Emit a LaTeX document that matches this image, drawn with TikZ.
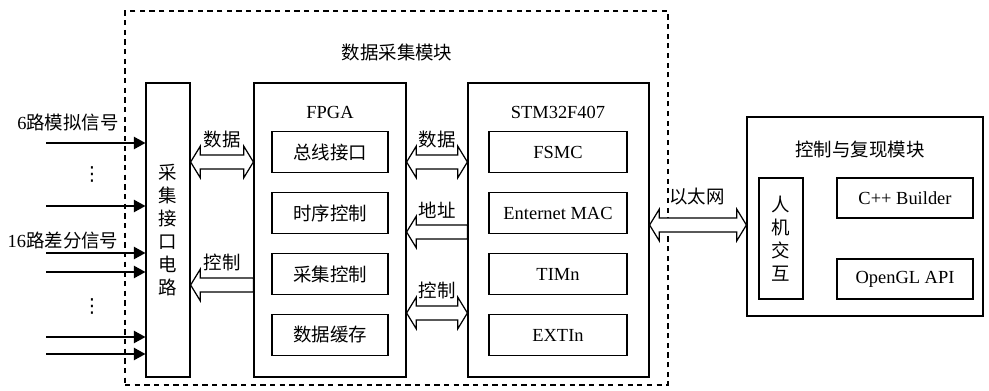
\documentclass[tikz,border=0pt]{standalone}
\usepackage{fontspec}
\setmainfont{Liberation Serif}
\newfontfamily\cjk{Noto Sans CJK SC}
\newfontfamily\symfont{DejaVu Sans}
\usetikzlibrary{arrows.meta,calc}

\newcommand*{\arhl}{5.5pt}
\newcommand*{\arhh}{9pt}
\newcommand*{\arsh}{4pt}

% hollow arrow, heads at both ends (#1 left, #2 right)
\newcommand{\hollowboth}[2]{%
  \draw[fat] let \p1=(#1), \p2=(#2) in
    (\x1,\y1) -- ++(\arhl,\arhh) -- ++(0,\arsh-\arhh) -- (\x2-\arhl,\y1+\arsh)
    -- ++(0,\arhh-\arsh) -- (\x2,\y1) -- ++(-\arhl,-\arhh) -- ++(0,\arhh-\arsh)
    -- (\x1+\arhl,\y1-\arsh) -- ++(0,\arsh-\arhh) -- cycle;}
% hollow arrow, head at #1 (left), tail at #2 (right)
\newcommand{\hollowleft}[2]{%
  \draw[fat] let \p1=(#1), \p2=(#2) in
    (\x1,\y1) -- ++(\arhl,\arhh) -- ++(0,\arsh-\arhh) -- (\x2,\y1+\arsh)
    -- (\x2,\y1-\arsh) -- (\x1+\arhl,\y1-\arsh) -- ++(0,\arsh-\arhh) -- cycle;}

\tikzset{
  box/.style={draw, line width=0.7pt, inner sep=0pt},
  unit/.style={box, minimum width=2.32cm, minimum height=0.82cm},
  stmunit/.style={box, minimum width=2.76cm, minimum height=0.82cm},
  pcunit/.style={box, minimum width=2.72cm, minimum height=0.8cm},
  fat/.style={draw, line width=0.7pt, fill=white},
  sig/.style={-{Triangle[length=6.5pt,width=7pt]}, line width=0.7pt},
  zh/.style={font=\fontsize{10.5}{13}\selectfont\cjk},
  dotsmark/.style={inner sep=0pt, font=\fontsize{11}{11}\selectfont\symfont},
}

\begin{document}
\begin{tikzpicture}[x=0.02cm, y=-0.02cm, font=\fontsize{10.5}{13}\selectfont]

    \useasboundingbox (0,0) rectangle (989,391);

    % data acquisition module
    \node[draw, dashed, dash pattern=on 3pt off 2.5pt, line width=0.7pt,
          minimum width=10.86cm, minimum height=7.48cm] (daq) at (396.5,198) {};
    \node[zh] (daqname) at (397,52) {数据采集模块};

    \node[box, zh, align=center, minimum width=0.88cm, minimum height=5.88cm]
          (acq) at (168,230) {采\\集\\接\\口\\电\\路};

    \node[box, minimum width=3.04cm, minimum height=5.88cm] (fpga) at (330,230) {};
    \node (fpganame) at (330,112) {FPGA};
    \node[unit, zh] (bus) at (330,152) {总线接口};
    \node[unit, zh] (timing) at (330,213) {时序控制};
    \node[unit, zh] (sample) at (330,274) {采集控制};
    \node[unit, zh] (buffer) at (330,335) {数据缓存};

    \node[box, minimum width=3.62cm, minimum height=5.88cm] (stm) at (558.5,230) {};
    \node (stmname) at (558,112) {STM32F407};
    \node[stmunit] (fsmc) at (558,152) {FSMC};
    \node[stmunit] (mac) at (558,213) {Enternet MAC};
    \node[stmunit] (tim) at (558,274) {TIMn};
    \node[stmunit] (exti) at (558,335) {EXTIn};

    % control and replay module
    \node[box, minimum width=4.72cm, minimum height=3.98cm] (ctrl) at (865,216.5) {};
    \node[zh] (ctrlname) at (860,150) {控制与复现模块};
    \node[box, zh, align=center, minimum width=0.88cm, minimum height=2.42cm]
          (hmi) at (781,238.5) {人\\机\\交\\互};
    \node[pcunit] (cpp) at (905,198) {C++ Builder};
    \node[pcunit] (ogl) at (905,279) {OpenGL API};

    % input signals
    \coordinate (in1) at (46,143);
    \coordinate (in2) at (46,206);
    \coordinate (in3) at (46,253);
    \coordinate (in4) at (46,272);
    \coordinate (in5) at (46,337);
    \coordinate (in6) at (46,354);
    \foreach \i in {1,...,6}
      \draw[sig] (in\i) -- (in\i -| acq.west);
    \node (analog) at (68,123) {6{\cjk 路模拟信号}};
    \node (diff) at (63,240) {16{\cjk 路差分信号}};
    \node[dotsmark] (dots1) at (92,174) {⋮};
    \node[dotsmark] (dots2) at (92,306) {⋮};

    % buses
    \coordinate (rdata) at (0,162);
    \coordinate (raddr) at (0,232);
    \coordinate (rctrl) at (0,285);
    \coordinate (rctrl2) at (0,313);
    \coordinate (reth) at (0,225);

    \hollowboth{acq.east |- rdata}{fpga.west |- rdata}
    \hollowleft{acq.east |- rctrl}{fpga.west |- rctrl}
    \hollowboth{fpga.east |- rdata}{stm.west |- rdata}
    \hollowleft{fpga.east |- raddr}{stm.west |- raddr}
    \hollowboth{fpga.east |- rctrl2}{stm.west |- rctrl2}
    \hollowboth{stm.east |- reth}{ctrl.west |- reth}

    \node[zh] (ldata) at (222,140) {数据};
    \node[zh] (lctrl) at (222,262) {控制};
    \node[zh] (ldata2) at (437,140) {数据};
    \node[zh] (laddr) at (437,210) {地址};
    \node[zh] (lctrl2) at (437,290) {控制};
    \node[zh] (leth) at (697,197) {以太网};

\end{tikzpicture}
\end{document}
